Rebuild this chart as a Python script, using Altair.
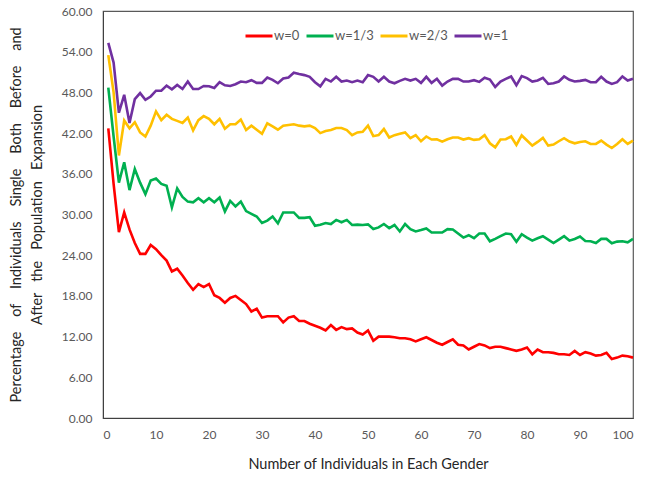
import altair as alt
import pandas as pd

n_values = list(range(1, 101))

w0 = [42.7, 34.5, 27.4, 30.3, 27.8, 25.8, 24.2, 24.2, 25.5, 24.9,
      24.0, 23.2, 21.6, 22.0, 21.0, 19.9, 18.9, 19.75, 19.3, 19.75,
      18.1, 17.7, 17.0, 17.7, 18.0, 17.4, 16.8, 15.7, 16.1, 14.8,
      15.0, 15.0, 15.0, 14.1, 14.8, 15.0, 14.3, 14.3, 13.9, 13.6,
      13.3, 12.9, 13.7, 13.0, 13.4, 13.1, 13.2, 12.6, 12.3, 12.9,
      11.4, 12.0, 12.0, 12.0, 11.9, 11.75, 11.75, 11.6, 11.3, 11.6,
      11.9, 11.5, 11.1, 10.8, 11.2, 11.6, 10.8, 10.7, 10.1, 10.5,
      10.9, 10.7, 10.3, 10.5, 10.5, 10.3, 10.1, 9.9, 10.1, 10.4,
      9.4, 10.1, 9.7, 9.7, 9.6, 9.4, 9.4, 9.3, 9.9, 9.3,
      9.7, 9.5, 9.2, 9.3, 9.6, 8.7, 8.9, 9.2, 9.1, 8.9]

w13 = [48.7, 41.5, 34.7, 37.7, 33.6, 36.7, 34.7, 33.0, 35.0, 35.3,
       34.5, 34.25, 31.05, 33.85, 32.6, 31.9, 31.8, 32.4, 31.8, 32.4,
       31.8, 32.5, 30.45, 32.0, 31.2, 31.9, 30.5, 30.1, 29.7, 28.75,
       29.1, 29.7, 28.7, 30.3, 30.3, 30.3, 29.5, 29.5, 29.6, 28.35,
       28.5, 28.75, 28.6, 29.2, 28.85, 29.2, 28.45, 28.5, 28.45, 28.55,
       27.85, 28.1, 28.6, 28.0, 28.45, 27.5, 28.6, 27.85, 27.5, 27.7,
       27.95, 27.35, 27.35, 27.35, 27.85, 27.8, 27.2, 26.6, 26.95, 26.5,
       27.2, 27.2, 26.05, 26.4, 26.8, 27.2, 27.1, 26.0, 27.1, 26.6,
       26.15, 26.5, 26.8, 26.3, 25.8, 26.3, 26.8, 26.15, 26.4, 26.75,
       26.1, 26.05, 25.8, 26.4, 26.4, 25.75, 26.0, 26.05, 25.9, 26.4]

w23 = [53.5, 48.0, 38.7, 43.85, 42.7, 43.6, 42.1, 41.5, 43.1, 45.2,
       43.9, 44.7, 44.1, 43.8, 43.5, 44.3, 42.4, 43.9, 44.5, 44.1,
       43.3, 44.1, 42.65, 43.3, 43.3, 44.0, 42.45, 43.1, 42.5, 41.9,
       43.45, 43.0, 42.5, 43.1, 43.2, 43.3, 43.1, 43.0, 43.1, 42.75,
       42.0, 42.3, 42.45, 42.75, 42.75, 42.45, 41.7, 42.1, 42.2, 43.1,
       41.55, 41.7, 42.6, 41.35, 41.7, 41.9, 42.1, 41.25, 41.7, 40.8,
       41.5, 41.05, 41.1, 40.75, 41.1, 41.35, 41.35, 41.05, 41.25, 41.0,
       41.1, 41.7, 40.5, 39.9, 41.05, 41.1, 41.5, 40.25, 41.65, 40.9,
       40.15, 40.7, 41.3, 40.15, 40.3, 40.8, 41.25, 40.75, 40.5, 40.7,
       40.8, 40.4, 40.4, 40.9, 40.3, 39.8, 40.4, 41.1, 40.4, 40.9]

w1 = [55.3, 52.4, 45.0, 47.65, 43.5, 47.0, 47.9, 46.9, 47.4, 48.25,
      48.25, 49.0, 48.45, 49.1, 48.5, 49.6, 48.5, 48.5, 48.95, 48.9,
      48.65, 49.5, 49.05, 48.95, 49.2, 49.6, 49.5, 49.8, 49.4, 49.4,
      50.2, 49.85, 49.35, 50.05, 50.2, 50.9, 50.7, 50.55, 50.3, 49.5,
      48.9, 50.0, 49.6, 50.3, 49.6, 49.75, 49.5, 49.75, 49.5, 50.55,
      50.3, 49.6, 50.3, 49.6, 49.35, 49.7, 50.0, 49.75, 50.0, 49.4,
      50.3, 49.4, 50.0, 49.0, 49.6, 50.0, 50.0, 49.6, 49.6, 49.8,
      49.55, 50.15, 49.9, 48.8, 49.6, 50.0, 50.35, 49.05, 50.4, 50.1,
      49.6, 49.75, 50.15, 49.25, 49.35, 49.6, 50.35, 49.85, 49.6, 49.7,
      49.85, 49.5, 49.5, 50.3, 49.6, 49.25, 49.5, 50.35, 49.75, 50.0]

series_names = ["w=0", "w=1/3", "w=2/3", "w=1"]
series_colors = ["#FF0000", "#00B050", "#FFC000", "#7030A0"]
x_ticks = list(range(0, 101, 10))
y_ticks = list(range(0, 61, 6))

rows = []
for name, vals in zip(series_names, [w0, w13, w23, w1]):
    for n, v in zip(n_values, vals):
        rows.append({"n": n, "v": v, "s": name})
df = pd.DataFrame(rows)

nb = "\u00a0"
sep1 = nb * 4
sep2 = nb * 3
line1 = sep1.join(["Percentage", "of", "Individuals", "Single", "Both", "Before", "and"])
line2 = sep2.join(["After", "the", "Population", "Expansion"])

FONT = "Lato"

chart = alt.Chart(df).mark_line(strokeWidth=2.6).encode(
    x=alt.X("n:Q",
            scale=alt.Scale(domain=[0, 100], nice=False),
            axis=alt.Axis(values=x_ticks, title="Number of Individuals in Each Gender",
                          ticks=False, grid=False, labelFontSize=12, labelColor="#595959",
                          labelPadding=11, titleFontSize=14.5, titleColor="#262626",
                          titleFontWeight="normal", titlePadding=17,
                          domainColor="#404040", labelFont=FONT, titleFont=FONT)),
    y=alt.Y("v:Q",
            scale=alt.Scale(domain=[0, 60], nice=False),
            axis=alt.Axis(values=y_ticks, format=".2f", title=[line1, line2],
                          ticks=False, grid=False, labelFontSize=12, labelColor="#595959",
                          labelPadding=11, titleFontSize=14.5, titleColor="#262626",
                          titleFontWeight="normal", titleX=-80, titleY=203.5,
                          titleLineHeight=21, domainColor="#404040",
                          labelFont=FONT, titleFont=FONT)),
    color=alt.Color("s:N",
                    scale=alt.Scale(domain=series_names, range=series_colors),
                    legend=alt.Legend(title=None, orient="none", direction="horizontal",
                                      legendX=141, legendY=10, symbolType="stroke",
                                      symbolSize=729, symbolStrokeWidth=3,
                                      labelFontSize=13, labelColor="#595959",
                                      labelFont=FONT, labelOffset=0, columnPadding=0)),
    order=alt.Order("n:Q"),
).properties(
    width=530, height=407,
    autosize=alt.AutoSizeParams(type="none"),
    padding={"left": 103, "top": 11, "right": 21, "bottom": 58},
).configure_view(stroke="#595959", strokeWidth=1.2)

chart.save("out.html", embed_options={"renderer": "svg", "actions": False})
